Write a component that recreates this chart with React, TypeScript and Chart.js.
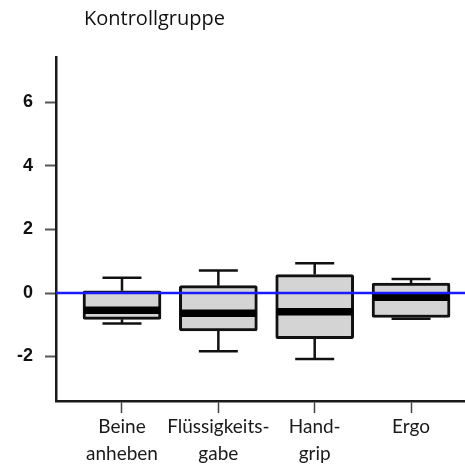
import React, { useEffect, useRef } from "react";
import { Chart, registerables } from "chart.js";

Chart.register(...registerables);

// Box-plot summary per exercise (change values)
const categories: string[][] = [["Beine", "anheben"], ["Flüssigkeits-", "gabe"], ["Hand-", "grip"], ["Ergo"]];
const positions = [1, 2, 3, 4];
const whiskerLow = [-0.96, -1.83, -2.08, -0.81];
const quartile1 = [-0.83, -1.19, -1.44, -0.77];
const medians = [-0.54, -0.64, -0.59, -0.13];
const quartile3 = [0.07, 0.23, 0.58, 0.31];
const whiskerHigh = [0.48, 0.71, 0.94, 0.44];
const yTicks = [-2, 0, 2, 4, 6];
const referenceValue = 0;
const titleText = "Kontrollgruppe";

const AXIS_COLOR = "#1a1a1a";
const BOX_FILL = "#d4d4d4";
const BOX_WIDTH = 78;
const CAP_WIDTH = 39;

const boxExtras = {
  id: "boxExtras",
  afterDatasetsDraw(chart: any) {
    const { ctx, chartArea } = chart;
    const xs = chart.scales.x;
    const ys = chart.scales.y;
    ctx.save();
    ctx.lineCap = "butt";
    positions.forEach((p, i) => {
      const cx = xs.getPixelForValue(p);
      const yLo = ys.getPixelForValue(whiskerLow[i]);
      const yHi = ys.getPixelForValue(whiskerHigh[i]);
      const yQ1 = ys.getPixelForValue(quartile1[i]);
      const yQ3 = ys.getPixelForValue(quartile3[i]);
      const yMed = ys.getPixelForValue(medians[i]);
      // whiskers with caps
      ctx.strokeStyle = "#111";
      ctx.lineWidth = 2.5;
      ctx.beginPath();
      ctx.moveTo(cx, yQ3);
      ctx.lineTo(cx, yHi);
      ctx.moveTo(cx - CAP_WIDTH / 2, yHi);
      ctx.lineTo(cx + CAP_WIDTH / 2, yHi);
      ctx.moveTo(cx, yQ1);
      ctx.lineTo(cx, yLo);
      ctx.moveTo(cx - CAP_WIDTH / 2, yLo);
      ctx.lineTo(cx + CAP_WIDTH / 2, yLo);
      ctx.stroke();
      // median band
      ctx.lineWidth = 7.5;
      ctx.strokeStyle = "#000";
      ctx.beginPath();
      ctx.moveTo(cx - BOX_WIDTH / 2 + 1, yMed);
      ctx.lineTo(cx + BOX_WIDTH / 2 - 1, yMed);
      ctx.stroke();
    });
    // reference line at zero
    const y0 = ys.getPixelForValue(referenceValue);
    ctx.strokeStyle = "#1a1aff";
    ctx.lineWidth = 2.5;
    ctx.beginPath();
    ctx.moveTo(chartArea.left, y0);
    ctx.lineTo(chartArea.right, y0);
    ctx.stroke();
    // heading
    ctx.fillStyle = "#111";
    ctx.font = "20px 'Open Sans'";
    ctx.textBaseline = "alphabetic";
    ctx.textAlign = "left";
    ctx.fillText(titleText, 84, 25);
    ctx.restore();
  },
};

export default function App() {
  const canvasRef = useRef<HTMLCanvasElement | null>(null);

  useEffect(() => {
    const canvas = canvasRef.current;
    if (!canvas) return;
    const chart = new Chart(canvas, {
      type: "bar",
      data: {
        datasets: [
          {
            data: positions.map((p, i) => ({ x: p, y: [quartile1[i], quartile3[i]] })) as any,
            backgroundColor: BOX_FILL,
            borderColor: "#111",
            borderWidth: 3,
            borderSkipped: false,
            borderRadius: 2,
            barThickness: BOX_WIDTH,
          },
        ],
      },
      options: {
        animation: false,
        responsive: false,
        maintainAspectRatio: false,
        layout: { padding: { top: 57, right: 0, left: 0, bottom: 0 } },
        plugins: {
          legend: { display: false },
          tooltip: { enabled: false },
          title: { display: false },
        },
        scales: {
          x: {
            type: "linear",
            min: 0.315,
            max: 4.56,
            offset: false,
            afterBuildTicks: (s: any) => {
              s.ticks = positions.map((v) => ({ value: v }));
            },
            afterFit: (s: any) => {
              s.height = 64;
            },
            grid: {
              display: true,
              drawOnChartArea: false,
              drawTicks: true,
              tickLength: 12,
              tickColor: "#444",
              tickWidth: 1.5,
              offset: false,
            },
            border: { display: true, color: AXIS_COLOR, width: 2.5 },
            ticks: {
              padding: 0,
              maxRotation: 0,
              autoSkip: false,
              color: "#1a1a1a",
              font: { family: "Lato", size: 19, lineHeight: 1.45 },
              callback: (_v: any, i: number) => categories[i],
            },
          },
          y: {
            type: "linear",
            min: -3.4,
            max: 7.43,
            afterBuildTicks: (s: any) => {
              s.ticks = yTicks.map((v) => ({ value: v }));
            },
            afterFit: (s: any) => {
              s.width = 56;
            },
            grid: {
              display: true,
              drawOnChartArea: false,
              drawTicks: true,
              tickLength: 11,
              tickColor: "#555",
              tickWidth: 2,
            },
            border: { display: true, color: AXIS_COLOR, width: 2.5 },
            ticks: {
              padding: 12,
              color: "#111",
              font: { family: "Liberation Sans", size: 18, weight: "bold" },
              callback: (v: any) => String(v),
            },
          },
        },
      },
      plugins: [boxExtras],
    });
    return () => chart.destroy();
  }, []);

  return (
    <div style={{ position: "fixed", left: 0, top: 0, width: 465, height: 465, background: "#fff" }}>
      <canvas ref={canvasRef} width={465} height={465} style={{ display: "block" }} />
    </div>
  );
}
